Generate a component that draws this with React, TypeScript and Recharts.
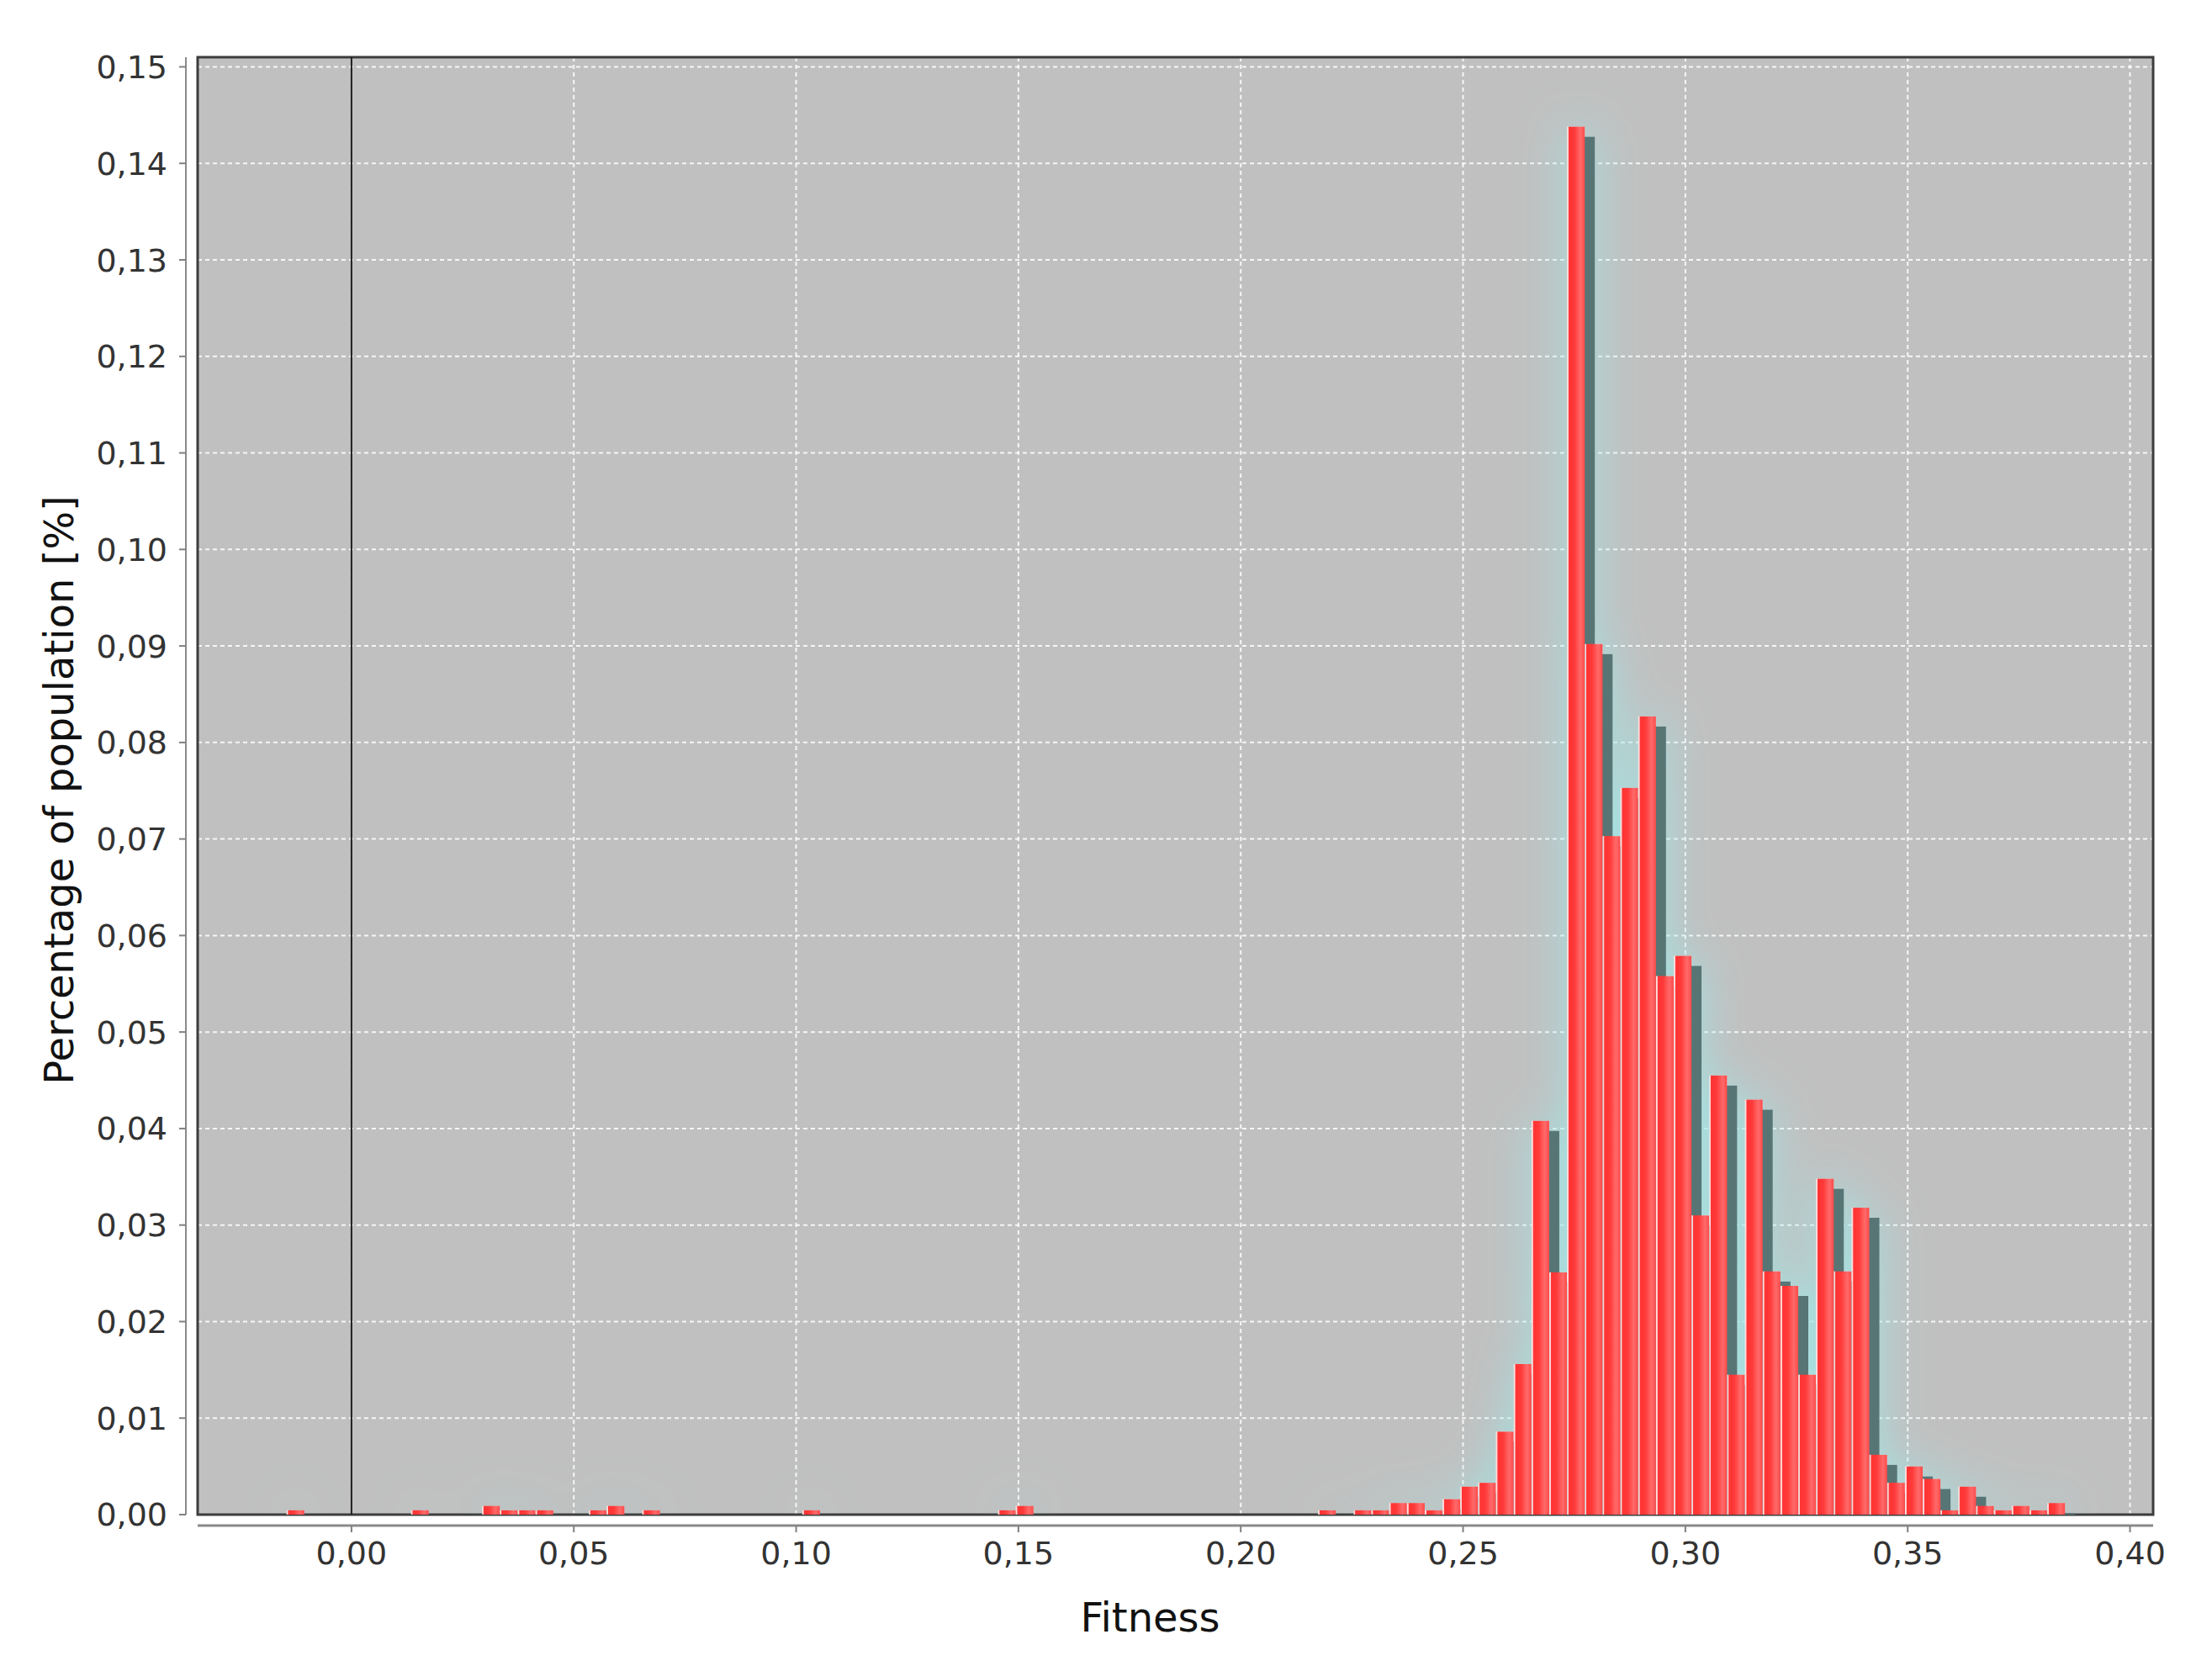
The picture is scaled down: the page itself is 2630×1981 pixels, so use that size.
import { BarChart, Bar, XAxis, YAxis, CartesianGrid, ReferenceLine, ReferenceArea, Label } from 'recharts';

// histogram bins (centre of each non-empty bin, width 0.004)
const fitness = [
  -0.0126, 0.0154, 0.0314, 0.0354, 0.0394, 0.0434, 0.0554, 0.0594, 0.0674, 0.1034,
  0.1474, 0.1514, 0.2194, 0.2274, 0.2314, 0.2354, 0.2394, 0.2434, 0.2474, 0.2514,
  0.2554, 0.2594, 0.2634, 0.2674, 0.2714, 0.2754, 0.2794, 0.2834, 0.2874, 0.2914,
  0.2954, 0.2994, 0.3034, 0.3074, 0.3114, 0.3154, 0.3194, 0.3234, 0.3274, 0.3314,
  0.3354, 0.3394, 0.3434, 0.3474, 0.3514, 0.3554, 0.3594, 0.3634, 0.3674, 0.3714,
  0.3754, 0.3794, 0.3834,
];

const share = [
  0.00045, 0.00045, 0.0009, 0.00045, 0.00045, 0.00045, 0.00045, 0.0009, 0.00045, 0.00045,
  0.00045, 0.0009, 0.00045, 0.00045, 0.00045, 0.0012, 0.0012, 0.00045, 0.0016, 0.0029,
  0.0033, 0.0086, 0.0156, 0.0408, 0.0251, 0.1438, 0.0902, 0.0703, 0.0753, 0.0827,
  0.0558, 0.0579, 0.031, 0.0455, 0.0145, 0.043, 0.0252, 0.0237, 0.0145, 0.0348,
  0.0252, 0.0318, 0.0062, 0.0033, 0.005, 0.0037, 0.00045, 0.0029, 0.0009, 0.00045,
  0.0009, 0.00045, 0.0012,
];

const xTicks = [0, 0.05, 0.1, 0.15, 0.2, 0.25, 0.3, 0.35, 0.4];
const yTicks = [0, 0.01, 0.02, 0.03, 0.04, 0.05, 0.06, 0.07, 0.08, 0.09, 0.1, 0.11, 0.12, 0.13, 0.14, 0.15];
const xDomain = [-0.0346, 0.4052];
const yDomain = [0, 0.151];

const data = fitness.map((f, i) => ({ fitness: f, share: share[i] }));

const FONT = 'DejaVu Sans';
const SHADOW = 12;

const fmt = (v: number) => v.toFixed(2).replace('.', ',');

const renderBar = (props: any) => {
  const { x, y, width, height } = props;
  return (
    <g>
      {height > SHADOW && (
        <rect x={x + SHADOW} y={y + SHADOW} width={width} height={height - SHADOW} fill="#587474" />
      )}
      <rect x={x} y={y} width={width} height={height} fill="url(#barFill)" />
    </g>
  );
};

const XTitle = (props: any) => {
  const vb = props.viewBox;
  return (
    <text x={vb.x + vb.width / 2 - 30} y={vb.y + 139} textAnchor="middle" fontFamily={FONT} fontSize={48} fill="#111">
      Fitness
    </text>
  );
};

const YTitle = (props: any) => {
  const vb = props.viewBox;
  const cx = vb.x + 35;
  const cy = vb.y + vb.height / 2 + 5;
  return (
    <text
      x={cx}
      y={cy}
      dy="0.355em"
      transform={`rotate(-90 ${cx} ${cy})`}
      textAnchor="middle"
      fontFamily={FONT}
      fontSize={48}
      fill="#111"
    >
      Percentage of population [%]
    </text>
  );
};

export default function App() {
  return (
    <div style={{ position: 'absolute', left: 0, top: 0, background: '#fff' }}>
      <style>{'.main-bars { filter: url(#glow); }'}</style>
      <BarChart
        width={2630}
        height={1981}
        data={data}
        margin={{ top: 68, right: 70, left: 35, bottom: 30 }}
      >
        <defs>
          <linearGradient id="barFill" x1="0" y1="0" x2="1" y2="0">
            <stop offset="0" stopColor="#ffe8e8" />
            <stop offset="0.07" stopColor="#ffd0d0" />
            <stop offset="0.1" stopColor="#ff3434" />
            <stop offset="0.4" stopColor="#ff3838" />
            <stop offset="0.75" stopColor="#ff6a6a" />
            <stop offset="1" stopColor="#ff4a4a" />
          </linearGradient>
          <filter id="glow" x="-4%" y="-8%" width="108%" height="108%">
            <feGaussianBlur in="SourceAlpha" stdDeviation="26" result="blur" />
            <feFlood floodColor="#a2e6e6" floodOpacity="0.85" />
            <feComposite in2="blur" operator="in" result="glowColor" />
            <feMerge>
              <feMergeNode in="glowColor" />
              <feMergeNode in="SourceGraphic" />
            </feMerge>
          </filter>
        </defs>

        <CartesianGrid
          fill="#c0c0c0"
          stroke="#ffffff"
          strokeOpacity={0.85}
          strokeWidth={2}
          strokeDasharray="5 4"
        />

        <XAxis
          dataKey="fitness"
          type="number"
          domain={xDomain}
          ticks={xTicks}
          allowDataOverflow
          interval={0}
          height={150}
          tickFormatter={fmt}
          tickSize={8}
          tickMargin={24}
          tick={{ fill: '#333', fontSize: 38, fontFamily: FONT }}
          tickLine={{ stroke: '#808080', strokeWidth: 2, transform: 'translate(0,13)' }}
          axisLine={{ stroke: '#8a8a8a', strokeWidth: 3, transform: 'translate(0,13)' }}
        >
          <Label content={XTitle} />
        </XAxis>

        <YAxis
          type="number"
          domain={yDomain}
          ticks={yTicks}
          allowDataOverflow
          interval={0}
          width={200}
          tickFormatter={fmt}
          tickSize={8}
          tickMargin={28}
          tick={{ fill: '#333', fontSize: 38, fontFamily: FONT }}
          tickLine={{ stroke: '#808080', strokeWidth: 2, transform: 'translate(-14,0)' }}
          axisLine={{ stroke: '#8a8a8a', strokeWidth: 2, transform: 'translate(-14,0)' }}
        >
          <Label content={YTitle} />
        </YAxis>

        <Bar
          dataKey="share"
          barSize={21}
          className="main-bars"
          shape={renderBar}
          isAnimationActive={false}
        />

        <ReferenceLine x={0} stroke="#1e1e1e" strokeWidth={2} />
        <ReferenceArea
          x1={xDomain[0]}
          x2={xDomain[1]}
          y1={yDomain[0]}
          y2={yDomain[1]}
          fill="none"
          stroke="#3c3c3c"
          strokeWidth={3}
        />
      </BarChart>
    </div>
  );
}
